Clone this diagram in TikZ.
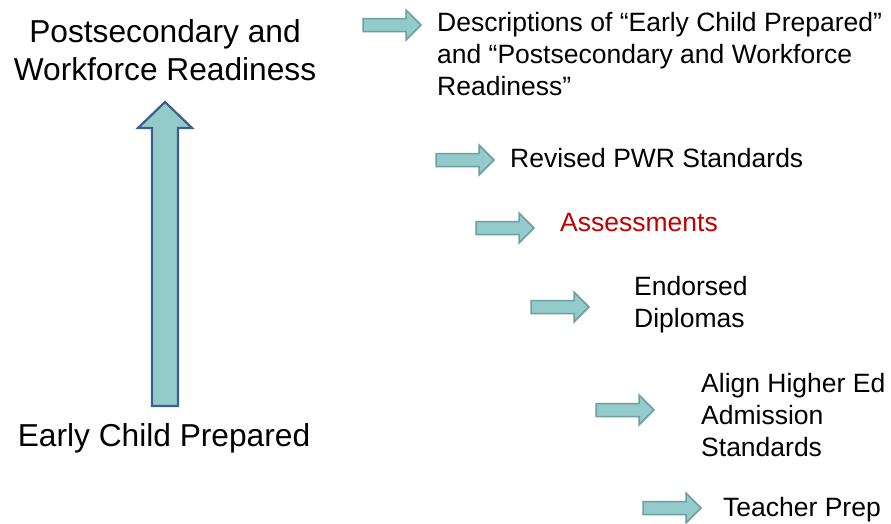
\documentclass[tikz,border=0pt]{standalone}
\usepackage{fontspec}
\setmainfont{Liberation Sans}
\usepackage{xcolor}
\usetikzlibrary{positioning}
\definecolor{arrowfill}{HTML}{93CBCB}
\definecolor{arrowline}{HTML}{6E9E9E}
\definecolor{bigline}{HTML}{3B5F8F}
\definecolor{redtxt}{HTML}{C00000}
\tikzset{
    bigtxt/.style={
        font=\fontsize{31.7}{38}\selectfont,
        align=center,
        inner sep=0pt
    },
    steptxt/.style={
        font=\fontsize{26.5}{32}\selectfont,
        align=left,
        anchor=west,
        inner sep=0pt
    },
    smallarrow/.pic={
        \draw[fill=arrowfill, draw=arrowline, line width=1.5pt, line join=miter]
            (0,-6.5) -- (43,-6.5) -- (43,-15) -- (58,0) -- (43,15) -- (43,6.5) -- (0,6.5) -- cycle;
    }
}

\begin{document}
\begin{tikzpicture}[x=1pt,y=-1pt]
        \useasboundingbox (0,0) rectangle (891,523);

        % big arrow upwards
        \draw[fill=arrowfill, draw=bigline, line width=2.2pt, line join=miter]
            (152,406) -- (178,406) -- (178,128) -- (192,128) -- (165,102)
            -- (138,128) -- (152,128) -- cycle;

        \node[bigtxt] (pwr) at (165,50) {Postsecondary and\\Workforce Readiness};
        \node[bigtxt] (ecp) at (164,438) {Early Child Prepared};

        % small arrows
        \foreach \x/\y in {363/25, 436/160, 476/228, 531/307, 596/410, 643/508}
        {
            \pic at (\x,\y) {smallarrow};
        }

        % steps
        \node[steptxt] (desc) at (437,54) {Descriptions of “Early Child Prepared”\\and “Postsecondary and Workforce\\Readiness”};
        \node[steptxt] (rev) at (510,158) {Revised PWR Standards};
        \node[steptxt, text=redtxt] (assess) at (560,223) {Assessments};
        \node[steptxt] (endorse) at (634,305) {Endorsed\\Diplomas};
        \node[steptxt] (align) at (701,415) {Align Higher Ed\\Admission\\Standards};
        \node[steptxt] (teach) at (723,510) {Teacher Prep};
    \end{tikzpicture}
\end{document}
